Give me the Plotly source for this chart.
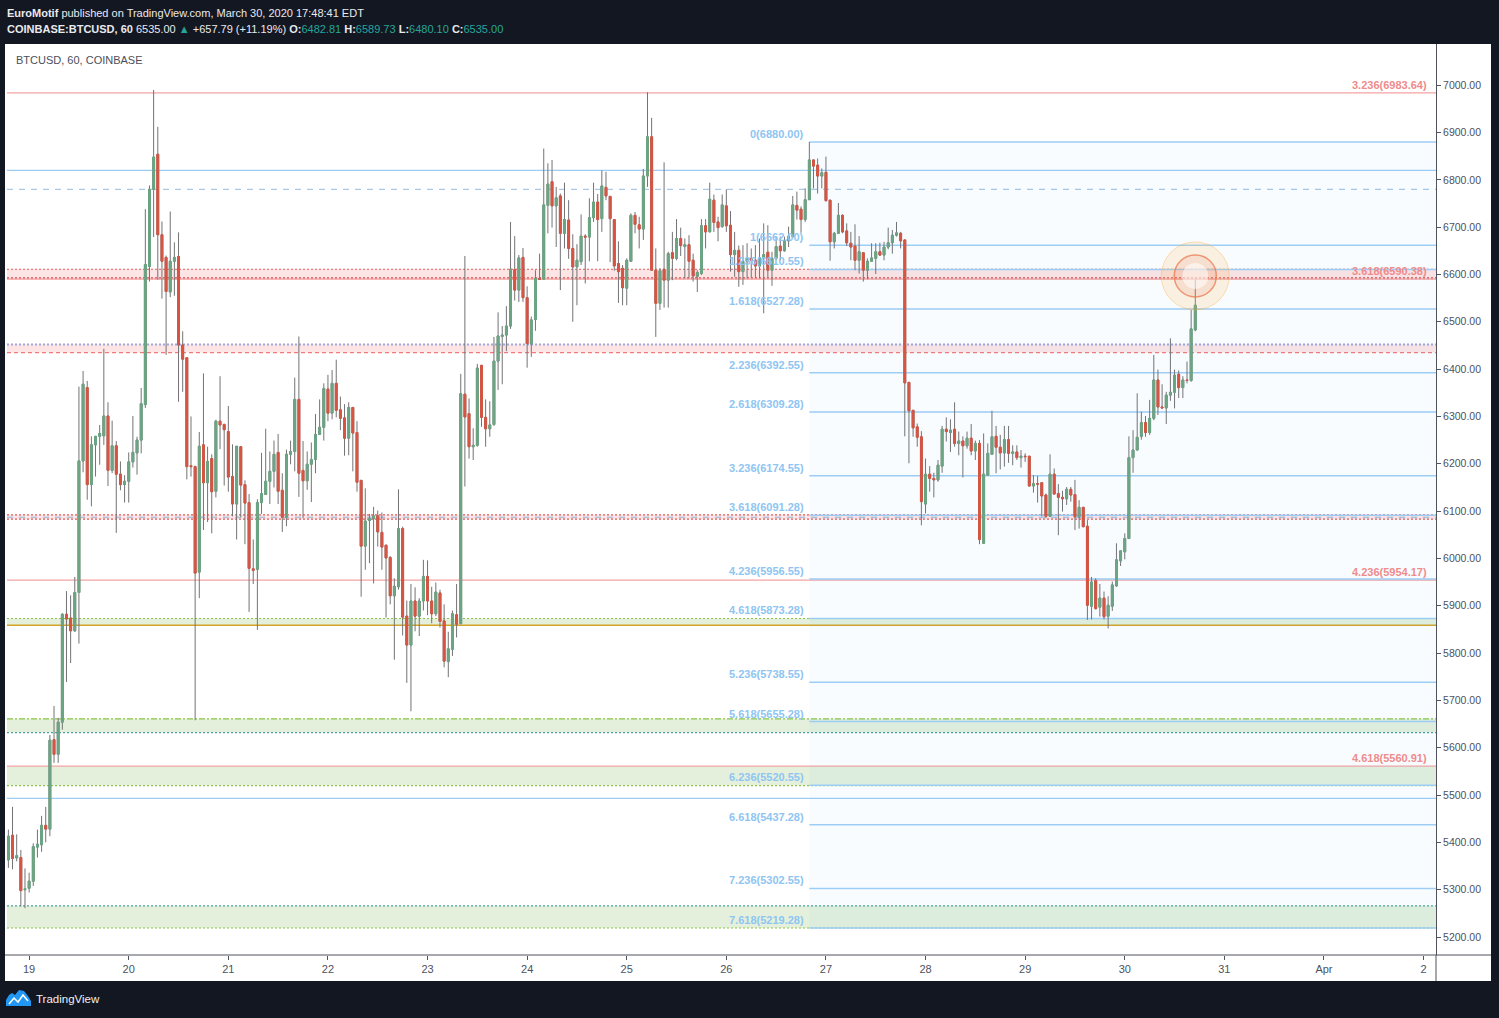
import pandas as pd
import plotly.graph_objects as go

# ---- data (COINBASE:BTCUSD, 1h) ----
OPEN = [
    5363, 5415, 5367, 5368, 5300, 5303, 5318, 5390, 5395, 5436,
    5428, 5617, 5586, 5654, 5882, 5874, 5847, 5928, 6206, 6361,
    6156, 6240, 6258, 6259, 6301, 6186, 6238, 6178, 6156, 6163,
    6204, 6223, 6250, 6325, 6617, 6780, 6854, 6684, 6636, 6563,
    6628, 6638, 6451, 6424, 6196, 6194, 5971, 6240, 6160, 6211,
    6142, 6290, 6283, 6268, 6173, 6115, 6236, 6156, 6118, 5978,
    5977, 6118, 6135, 6163, 6184, 6224, 6144, 6087, 6220, 6226,
    6336, 6186, 6164, 6199, 6209, 6262, 6277, 6358, 6307, 6370,
    6314, 6297, 6254, 6319, 6266, 6165, 6026, 6080, 6084, 6090,
    6055, 6028, 6002, 5921, 5940, 6063, 5878, 5817, 5910, 5878,
    5910, 5962, 5910, 5883, 5927, 5868, 5782, 5808, 5881, 5862,
    6347, 6306, 6236, 6239, 6408, 6298, 6274, 6283, 6417, 6469,
    6472, 6491, 6610, 6567, 6636, 6551, 6453, 6505, 6592, 6590,
    6746, 6796, 6745, 6766, 6687, 6715, 6655, 6616, 6627, 6681,
    6679, 6720, 6753, 6718, 6784, 6765, 6716, 6623, 6613, 6571,
    6628, 6725, 6705, 6696, 6808, 6891, 6609, 6539, 6611, 6588,
    6646, 6634, 6676, 6659, 6663, 6630, 6596, 6602, 6703, 6690,
    6757, 6711, 6701, 6745, 6704, 6642, 6651, 6606, 6628, 6634,
    6630, 6618, 6635, 6647, 6609, 6634, 6660, 6650, 6671, 6680,
    6746, 6738, 6716, 6758, 6842, 6831, 6808, 6816, 6757, 6669,
    6687, 6725, 6692, 6666, 6660, 6630, 6646, 6609, 6628, 6634,
    6648, 6641, 6658, 6667, 6683, 6687, 6673, 6372, 6313, 6278,
    6257, 6115, 6178, 6169, 6166, 6195, 6273, 6266, 6273, 6243,
    6248, 6238, 6254, 6227, 6243, 6032, 6176, 6220, 6258, 6235,
    6223, 6251, 6222, 6225, 6213, 6216, 6216, 6153, 6158, 6160,
    6134, 6089, 6178, 6137, 6129, 6126, 6146, 6135, 6088, 6108,
    6068, 5899, 5953, 5897, 5916, 5878, 5899, 5942, 5995, 6014,
    6042, 6213, 6229, 6258, 6287, 6266, 6296, 6377, 6320, 6318,
    6345, 6351, 6389, 6361, 6377, 6376, 6482.81,
]
HIGH = [
    5427, 5475, 5417, 5384, 5345, 5336, 5398, 5427, 5456, 5475,
    5627, 5688, 5663, 5884, 5931, 5922, 5961, 6363, 6396, 6375,
    6258, 6258, 6282, 6443, 6330, 6291, 6248, 6205, 6176, 6224,
    6301, 6257, 6360, 6738, 6788, 6990, 6912, 6712, 6640, 6733,
    6668, 6689, 6480, 6424, 6300, 6196, 6267, 6391, 6236, 6220,
    6293, 6385, 6285, 6322, 6241, 6237, 6237, 6165, 6136, 6040,
    6125, 6223, 6274, 6226, 6249, 6263, 6180, 6230, 6249, 6382,
    6469, 6248, 6226, 6245, 6305, 6336, 6370, 6388, 6398, 6420,
    6342, 6326, 6330, 6320, 6290, 6165, 6148, 6094, 6109, 6101,
    6097, 6028, 6005, 5958, 6146, 6067, 5911, 5946, 5939, 5916,
    5997, 5996, 5940, 5949, 5934, 5903, 5845, 5890, 5946, 6390,
    6639, 6338, 6275, 6411, 6408, 6336, 6332, 6468, 6520, 6491,
    6533, 6711, 6681, 6641, 6656, 6575, 6511, 6609, 6644, 6866,
    6835, 6842, 6785, 6771, 6794, 6757, 6685, 6664, 6727, 6685,
    6761, 6794, 6770, 6820, 6817, 6766, 6716, 6670, 6620, 6634,
    6729, 6732, 6722, 6823, 6985, 6931, 6655, 6613, 6837, 6648,
    6690, 6717, 6699, 6676, 6683, 6644, 6609, 6717, 6717, 6794,
    6769, 6722, 6769, 6780, 6734, 6690, 6661, 6662, 6666, 6655,
    6662, 6676, 6708, 6704, 6648, 6680, 6680, 6680, 6701, 6766,
    6775, 6744, 6782, 6880, 6842, 6845, 6824, 6849, 6757, 6690,
    6751, 6727, 6708, 6690, 6706, 6681, 6646, 6634, 6666, 6666,
    6667, 6669, 6699, 6694, 6711, 6690, 6673, 6372, 6313, 6285,
    6269, 6211, 6195, 6181, 6208, 6280, 6298, 6294, 6330, 6268,
    6258, 6268, 6284, 6249, 6250, 6264, 6243, 6312, 6280, 6261,
    6280, 6280, 6239, 6239, 6229, 6222, 6216, 6176, 6174, 6160,
    6137, 6220, 6190, 6157, 6143, 6151, 6151, 6166, 6123, 6108,
    6081, 5961, 5958, 5946, 5930, 5920, 5951, 6032, 6016, 6053,
    6258, 6271, 6349, 6310, 6301, 6335, 6430, 6399, 6368, 6352,
    6465, 6399, 6397, 6385, 6416, 6525, 6589.73,
]
LOW = [
    5346, 5343, 5360, 5265, 5261, 5294, 5308, 5368, 5380, 5400,
    5413, 5568, 5568, 5638, 5739, 5779, 5845, 5820, 6182, 6124,
    6110, 6173, 6198, 6240, 6153, 6180, 6054, 6144, 6118, 6118,
    6192, 6177, 6222, 6318, 6585, 6679, 6589, 6549, 6430, 6552,
    6555, 6331, 6352, 6167, 6173, 5658, 5916, 6060, 6077, 6053,
    6129, 6231, 6154, 6141, 6089, 6040, 6087, 6030, 5887, 5946,
    5849, 6094, 6135, 6115, 6150, 6115, 6056, 6068, 6199, 6184,
    6130, 6085, 6145, 6119, 6180, 6262, 6249, 6290, 6294, 6298,
    6271, 6217, 6218, 6184, 6141, 5919, 5976, 5990, 5947, 6025,
    5976, 5875, 5903, 5786, 5934, 5837, 5737, 5677, 5846, 5836,
    5890, 5880, 5863, 5878, 5854, 5770, 5749, 5794, 5833, 5862,
    6152, 6211, 6208, 6236, 6278, 6236, 6257, 6280, 6356, 6368,
    6438, 6485, 6545, 6542, 6542, 6403, 6426, 6481, 6589, 6590,
    6687, 6699, 6658, 6567, 6655, 6633, 6500, 6535, 6620, 6581,
    6628, 6711, 6628, 6690, 6757, 6626, 6608, 6540, 6535, 6535,
    6627, 6687, 6655, 6673, 6785, 6609, 6468, 6525, 6530, 6530,
    6588, 6630, 6639, 6592, 6592, 6585, 6563, 6599, 6655, 6690,
    6690, 6670, 6699, 6690, 6606, 6595, 6574, 6578, 6592, 6593,
    6593, 6592, 6518, 6593, 6576, 6630, 6630, 6648, 6658, 6678,
    6716, 6688, 6711, 6758, 6782, 6771, 6782, 6754, 6629, 6655,
    6687, 6687, 6660, 6630, 6609, 6602, 6585, 6590, 6627, 6601,
    6639, 6630, 6653, 6644, 6680, 6655, 6258, 6201, 6257, 6236,
    6070, 6095, 6141, 6129, 6162, 6181, 6247, 6225, 6236, 6218,
    6171, 6232, 6218, 6208, 6030, 6031, 6176, 6220, 6180, 6188,
    6194, 6202, 6197, 6208, 6192, 6204, 6152, 6139, 6118, 6089,
    6085, 6088, 6136, 6049, 6099, 6113, 6120, 6060, 6063, 6066,
    5870, 5871, 5892, 5877, 5871, 5852, 5889, 5940, 5984, 5998,
    6042, 6181, 6229, 6251, 6257, 6261, 6292, 6303, 6318, 6284,
    6333, 6317, 6339, 6339, 6370, 6373, 6480.10,
]
CLOSE = [
    5413, 5366, 5372, 5298, 5302, 5318, 5391, 5396, 5436, 5428,
    5616, 5586, 5654, 5882, 5872, 5847, 5928, 6206, 6368, 6156,
    6240, 6258, 6264, 6301, 6186, 6238, 6178, 6156, 6163, 6204,
    6224, 6250, 6327, 6621, 6780, 6848, 6684, 6628, 6564, 6628,
    6636, 6451, 6421, 6194, 6194, 5969, 6237, 6160, 6205, 6141,
    6290, 6282, 6272, 6172, 6115, 6237, 6155, 6117, 5979, 5975,
    6118, 6137, 6163, 6184, 6220, 6142, 6087, 6220, 6226, 6336,
    6180, 6164, 6199, 6209, 6262, 6277, 6359, 6307, 6370, 6313,
    6296, 6254, 6319, 6265, 6161, 6026, 6079, 6084, 6090, 6056,
    6024, 6001, 5921, 5941, 6063, 5876, 5817, 5910, 5878, 5910,
    5962, 5910, 5883, 5929, 5867, 5783, 5809, 5883, 5861, 6348,
    6299, 6236, 6239, 6402, 6298, 6274, 6282, 6417, 6470, 6472,
    6491, 6611, 6567, 6635, 6551, 6454, 6504, 6592, 6590, 6747,
    6791, 6745, 6762, 6687, 6716, 6655, 6616, 6630, 6681, 6679,
    6720, 6753, 6716, 6787, 6766, 6718, 6618, 6606, 6572, 6630,
    6725, 6706, 6696, 6808, 6891, 6609, 6539, 6608, 6588, 6644,
    6634, 6676, 6661, 6663, 6628, 6597, 6604, 6703, 6690, 6759,
    6710, 6699, 6747, 6703, 6642, 6651, 6606, 6628, 6635, 6630,
    6618, 6635, 6642, 6609, 6634, 6659, 6650, 6671, 6681, 6747,
    6736, 6716, 6758, 6842, 6829, 6808, 6815, 6756, 6669, 6687,
    6725, 6690, 6667, 6658, 6630, 6648, 6609, 6628, 6635, 6648,
    6641, 6658, 6667, 6683, 6688, 6671, 6371, 6312, 6276, 6256,
    6120, 6178, 6169, 6166, 6197, 6273, 6268, 6271, 6243, 6248,
    6238, 6254, 6227, 6243, 6040, 6178, 6222, 6257, 6235, 6223,
    6251, 6222, 6225, 6213, 6216, 6215, 6153, 6158, 6157, 6132,
    6089, 6178, 6136, 6129, 6126, 6146, 6134, 6088, 6108, 6067,
    5901, 5950, 5894, 5916, 5877, 5901, 5944, 5997, 6016, 6042,
    6213, 6229, 6256, 6287, 6266, 6296, 6377, 6320, 6318, 6345,
    6351, 6387, 6361, 6377, 6376, 6485, 6535.00,
]
FIRST_BAR = "2020-03-18 19:00"
CHANGE = 657.79
CHANGE_PCT = 11.19

# blue fib extension drawn from the Mar 26 20:00 high
FIB_START = "2020-03-26 20:00"
FIB_LEVELS = ["0", "1", "1.236", "1.618", "2.236", "2.618", "3.236", "3.618",
              "4.236", "4.618", "5.236", "5.618", "6.236", "6.618", "7.236", "7.618"]
FIB_PRICES = [6880.00, 6662.00, 6610.55, 6527.28, 6392.55, 6309.28, 6174.55, 6091.28,
              5956.55, 5873.28, 5738.55, 5655.28, 5520.55, 5437.28, 5302.55, 5219.28]

# red (older) fib levels, full width
RED_LEVELS = ["3.236", "3.618", "4.236", "4.618"]
RED_PRICES = [6983.64, 6590.38, 5954.17, 5560.91]

# hand-drawn zones (low, high)
PINK_ZONES = [(6592, 6611), (6435, 6452), (6083, 6092)]
GREEN_ZONES = [(5859, 5873), (5632, 5661), (5520, 5561), (5219, 5266)]
BLUE_LINES = [6820, 5493]
DASHED_LINES = [6780, 6087]

CIRCLE_TIME = "2020-03-30 17:00"
CIRCLE_PRICE = 6597

Y_TICKS = [5200, 5300, 5400, 5500, 5600, 5700, 5800, 5900, 6000,
           6100, 6200, 6300, 6400, 6500, 6600, 6700, 6800, 6900, 7000]
X_TICKS = ["2020-03-19", "2020-03-20", "2020-03-21", "2020-03-22", "2020-03-23",
           "2020-03-24", "2020-03-25", "2020-03-26", "2020-03-27", "2020-03-28",
           "2020-03-29", "2020-03-30", "2020-03-31", "2020-04-01", "2020-04-02"]
X_TICK_LABELS = ["19", "20", "21", "22", "23", "24", "25", "26", "27", "28",
                 "29", "30", "31", "Apr", "2"]

X_RANGE = ["2020-03-18 18:40", "2020-04-02 03:00"]
Y_RANGE = [5162, 7087]

# ---- style ----
W, H = 1499, 1018
PL, PR, PT, PB = 7, 1436, 44, 955  # plot area in pixels
DARK = "#131722"
UP, DOWN, WICK = "#6ba583", "#d75442", "#737375"
SANS = "Liberation Sans, Arial, sans-serif"
AXIS_TXT = "#4c525e"
FIB_BLUE = "#9dcdf5"
FIB_TXT = "#8ec5f3"
RED_LINE = "#f3a3a3"
RED_TXT = "#ef8b8b"


def px(x, y):
    """pixel -> paper coordinates"""
    return (x - PL) / (PR - PL), (PB - y) / (PB - PT)


times = pd.date_range(FIRST_BAR, periods=len(CLOSE), freq="h")
highs = [max(h, o, c) for h, o, c in zip(HIGH, OPEN, CLOSE)]
lows = [min(l, o, c) for l, o, c in zip(LOW, OPEN, CLOSE)]
body_hi = [max(o, c) for o, c in zip(OPEN, CLOSE)]
body_lo = [min(o, c) for o, c in zip(OPEN, CLOSE)]

fig = go.Figure()
# wicks
fig.add_trace(go.Candlestick(
    x=times, open=OPEN, high=highs, low=lows, close=CLOSE,
    increasing=dict(line=dict(color=WICK, width=1), fillcolor="rgba(0,0,0,0)"),
    decreasing=dict(line=dict(color=WICK, width=1), fillcolor="rgba(0,0,0,0)"),
    hoverinfo="skip", showlegend=False,
))
# bodies
fig.add_trace(go.Candlestick(
    x=times, open=OPEN, high=body_hi, low=body_lo, close=CLOSE,
    increasing=dict(line=dict(color=UP, width=1), fillcolor=UP),
    decreasing=dict(line=dict(color=DOWN, width=1), fillcolor=DOWN),
    name="BTCUSD", showlegend=False,
))

shapes = []
# white chart panel incl. axes
x0, y0 = px(5, 981)
x1, y1 = px(1491, 44)
shapes.append(dict(type="rect", xref="paper", yref="paper", x0=x0, x1=x1, y0=y0, y1=y1,
                   fillcolor="white", line=dict(width=0), layer="below"))

# fib background
shapes.append(dict(type="rect", xref="x", yref="y", x0=FIB_START, x1=X_RANGE[1],
                   y0=FIB_PRICES[-1], y1=FIB_PRICES[0],
                   fillcolor="rgba(33,150,243,0.03)", line=dict(width=0), layer="below"))


def hline(y, color, width=1, dash="solid", start=None):
    if start is None:
        return dict(type="line", xref="paper", yref="y", x0=0, x1=1, y0=y, y1=y,
                    line=dict(color=color, width=width, dash=dash), layer="below")
    return dict(type="line", xref="x", yref="y", x0=start, x1=X_RANGE[1], y0=y, y1=y,
                line=dict(color=color, width=width, dash=dash), layer="below")


def zone(lo, hi, color):
    return dict(type="rect", xref="paper", yref="y", x0=0, x1=1, y0=lo, y1=hi,
                fillcolor=color, line=dict(width=0), layer="below")


for lo, hi in PINK_ZONES:
    shapes.append(zone(lo, hi, "rgba(239,83,80,0.15)"))
for lo, hi in GREEN_ZONES:
    shapes.append(zone(lo, hi, "rgba(120,180,80,0.2)"))

# zone edges
shapes.append(hline(PINK_ZONES[0][1], "#e05a5a", 1.2, "2px,2px"))
shapes.append(hline(PINK_ZONES[0][0], "#d94a4a", 2, "2px,2px"))
shapes.append(hline(PINK_ZONES[1][1], "#9fa8da", 2, "2px,2px"))
shapes.append(hline(PINK_ZONES[1][0], "#ef7b7b", 1.2, "4px,3px"))
shapes.append(hline(PINK_ZONES[2][1], "#e05a5a", 1.2, "2px,2px"))
shapes.append(hline(PINK_ZONES[2][0], "#e05a5a", 1.2, "2px,2px"))
shapes.append(hline(GREEN_ZONES[0][1], "#8bc34a", 1.2, "2px,2px"))
shapes.append(hline(GREEN_ZONES[0][0], "#d4a32a", 1.5))
shapes.append(hline(GREEN_ZONES[1][1], "#8bc34a", 1.2, "6px,2px,2px,2px"))
shapes.append(hline(GREEN_ZONES[1][0], "#4aa3a0", 1.2, "2px,2px"))
shapes.append(hline(GREEN_ZONES[2][0], "#8bc34a", 1.2, "2px,2px"))
shapes.append(hline(GREEN_ZONES[3][1], "#4aa3a0", 1.2, "2px,2px"))
shapes.append(hline(GREEN_ZONES[3][0], "#8bc34a", 1.2, "2px,2px"))

for y in BLUE_LINES:
    shapes.append(hline(y, FIB_BLUE, 1.2))
for y in DASHED_LINES:
    shapes.append(hline(y, "rgba(120,170,220,0.8)", 1, "6px,6px"))

for y in RED_PRICES:
    shapes.append(hline(y, RED_LINE, 1.3))
for y in FIB_PRICES:
    shapes.append(hline(y, FIB_BLUE, 1.5, start=FIB_START))

# axis separators
a, b = px(1436, 955)
c, d = px(1436, 981)
shapes.append(dict(type="line", xref="paper", yref="paper", x0=a, x1=c, y0=b, y1=d,
                   line=dict(color="#50535e", width=1)))
a, b = px(5, 955)
c, d = px(1491, 955)
shapes.append(dict(type="line", xref="paper", yref="paper", x0=a, x1=c, y0=b, y1=d,
                   line=dict(color="#50535e", width=1)))

# highlight circle on the last bar
for r, fill, line, lw in [(34, "rgba(255,183,77,0.16)", "rgba(255,167,38,0.35)", 1),
                          (21, "rgba(239,108,80,0.12)", "rgba(236,120,80,0.75)", 1.5),
                          (13, "rgba(255,255,255,0.55)", "rgba(0,0,0,0)", 0)]:
    shapes.append(dict(type="circle", xref="x", yref="y", xsizemode="pixel", ysizemode="pixel",
                       xanchor=CIRCLE_TIME, yanchor=CIRCLE_PRICE, x0=-r, x1=r, y0=-r, y1=r,
                       fillcolor=fill, line=dict(color=line, width=lw), layer="above"))

# TradingView logo
logo = [(6, 1006), (6, 1000), (9, 995), (12, 993), (15, 995), (19, 990), (24, 991),
        (28, 996), (31, 1001), (31, 1006)]
path = "M " + " L ".join("%.5f,%.5f" % px(x, y) for x, y in logo) + " Z"
shapes.append(dict(type="path", xref="paper", yref="paper", path=path,
                   fillcolor="#2196f3", line=dict(width=0)))
zig = [(9, 1004), (14, 998), (18, 1002), (23, 995), (28, 1001)]
path = "M " + " L ".join("%.5f,%.5f" % px(x, y) for x, y in zig)
shapes.append(dict(type="path", xref="paper", yref="paper", path=path,
                   line=dict(color="white", width=1.5)))

annotations = []
# header
hx, hy = px(5, 13)
annotations.append(dict(
    xref="paper", yref="paper", x=hx, y=hy, xanchor="left", yanchor="middle", showarrow=False,
    text="<b>EuroMotif</b> published on TradingView.com, March 30, 2020 17:48:41 EDT",
    font=dict(family=SANS, size=11, color="#e9eaee"),
))
teal = "#26a69a"
line2 = (
    "<b>COINBASE:BTCUSD, 60</b> %.2f <span style='color:%s'>▲</span> +%.2f (+%.2f%%) "
    "<b>O:</b><span style='color:%s'>%.2f</span> <b>H:</b><span style='color:%s'>%.2f</span> "
    "<b>L:</b><span style='color:%s'>%.2f</span> <b>C:</b><span style='color:%s'>%.2f</span>"
    % (CLOSE[-1], teal, CHANGE, CHANGE_PCT, teal, OPEN[-1], teal, HIGH[-1],
       teal, LOW[-1], teal, CLOSE[-1])
)
hx, hy = px(5, 29)
annotations.append(dict(xref="paper", yref="paper", x=hx, y=hy, xanchor="left", yanchor="middle",
                        showarrow=False, text=line2,
                        font=dict(family=SANS, size=11, color="#e9eaee")))
hx, hy = px(14, 60)
annotations.append(dict(xref="paper", yref="paper", x=hx, y=hy, xanchor="left", yanchor="middle",
                        showarrow=False, text="BTCUSD, 60, COINBASE",
                        font=dict(family=SANS, size=11, color="#4a4f5a")))
hx, hy = px(34, 999)
annotations.append(dict(xref="paper", yref="paper", x=hx, y=hy, xanchor="left", yanchor="middle",
                        showarrow=False, text="TradingView",
                        font=dict(family=SANS, size=11.5, color="#f0f0f0")))

# fib labels
for lvl, price in zip(FIB_LEVELS, FIB_PRICES):
    annotations.append(dict(xref="x", yref="y", x=FIB_START, y=price, xanchor="right",
                            yanchor="bottom", xshift=-3, yshift=0, showarrow=False,
                            text="<b>%s(%.2f)</b>" % (lvl, price),
                            font=dict(family=SANS, size=11, color=FIB_TXT)))
rx, _ = px(1429, 0)
for lvl, price in zip(RED_LEVELS, RED_PRICES):
    annotations.append(dict(xref="paper", yref="y", x=rx, y=price, xanchor="right",
                            yanchor="bottom", showarrow=False,
                            text="<b>%s(%.2f)</b>" % (lvl, price),
                            font=dict(family=SANS, size=11, color=RED_TXT)))

fig.update_layout(
    width=W, height=H,
    margin=dict(l=PL, r=W - PR, t=PT, b=H - PB, pad=0),
    paper_bgcolor=DARK, plot_bgcolor="white",
    showlegend=False, hovermode="x",
    boxgap=0.35,
    shapes=shapes, annotations=annotations,
    xaxis=dict(
        type="date", range=X_RANGE, rangeslider=dict(visible=False),
        tickvals=X_TICKS, ticktext=X_TICK_LABELS, ticks="outside", ticklen=4,
        tickcolor="#50535e", showgrid=False, zeroline=False, showline=False,
        tickfont=dict(family=SANS, size=11, color=AXIS_TXT),
    ),
    yaxis=dict(
        side="right", range=Y_RANGE, tickvals=Y_TICKS,
        ticktext=["%.2f" % v for v in Y_TICKS], ticks="outside", ticklen=4,
        tickcolor="#50535e", showgrid=False, zeroline=False, showline=True,
        linecolor="#50535e", linewidth=1,
        tickfont=dict(family=SANS, size=10.5, color=AXIS_TXT),
    ),
)

fig.write_html("out.html", config={"displayModeBar": False},
               post_script="document.body.style.margin='0';")
